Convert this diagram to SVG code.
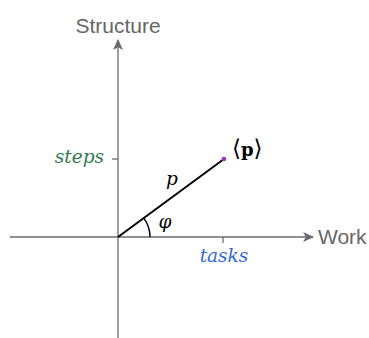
<svg xmlns="http://www.w3.org/2000/svg" width="369" height="338" viewBox="0 0 369 338">
<defs>
<marker id="ah" viewBox="0 0 10 10" refX="9" refY="5" markerWidth="11" markerHeight="11" markerUnits="userSpaceOnUse" orient="auto">
<path d="M0,0.5 L10,5 L0,9.5 L2.5,5 Z" fill="#6b6b6b"/>
</marker>
<style>
.axis{stroke:#6b6b6b;stroke-width:1.3;fill:none}
.lbl{font-family:"Liberation Sans",Arial,sans-serif;font-size:21px;fill:#666}
.math{font-family:"DejaVu Serif","Liberation Serif",serif;font-style:italic;font-size:18.5px}
</style>
</defs>
<g id="connectors">
<line class="axis" x1="10" y1="237" x2="313" y2="237" marker-end="url(#ah)"/>
<line class="axis" x1="118" y1="338" x2="118" y2="40" marker-end="url(#ah)"/>
<line class="axis" x1="112" y1="159" x2="118" y2="159"/>
<line class="axis" x1="223" y1="237" x2="223" y2="243"/>
<line x1="118" y1="237" x2="224" y2="159" stroke="#000" stroke-width="2"/>
<path d="M150,237 A32,32 0 0 0 143.8,218.1" fill="none" stroke="#000" stroke-width="1.5"/>
</g>
<g id="structure-label"><text class="lbl" x="118" y="33" text-anchor="middle">Structure</text></g>
<g id="work-label"><text class="lbl" x="318" y="244">Work</text></g>
<g id="steps"><text class="math" x="104" y="163" text-anchor="end" fill="#2e7d4f">steps</text></g>
<g id="tasks"><text class="math" x="224" y="262" text-anchor="middle" fill="#3366dd">tasks</text></g>
<g id="p-label"><text class="math" x="172" y="185" text-anchor="middle" fill="#000">p</text></g>
<g id="phi-label"><text class="math" x="165" y="228" text-anchor="middle" fill="#000">φ</text></g>
<g id="point">
<circle cx="224" cy="159" r="2.3" fill="#9933cc"/>
<text x="232" y="156" font-family="'Liberation Serif','DejaVu Serif',serif" font-size="23" fill="#000">⟨<tspan font-family="'DejaVu Serif',serif" font-size="18" font-weight="bold">p</tspan>⟩</text>
</g>
</svg>
